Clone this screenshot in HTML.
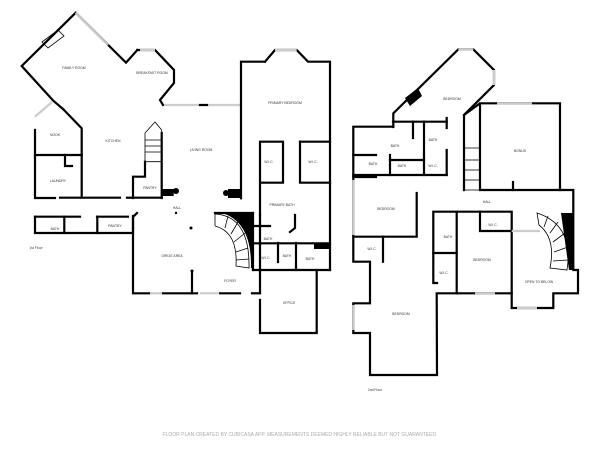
<!DOCTYPE html>
<html><head><meta charset="utf-8"><style>
html,body{margin:0;padding:0;background:#fff;}
svg{display:block;}
text{font-family:"Liberation Sans",sans-serif;font-size:3.4px;fill:#333;text-anchor:middle;}
.w{fill:none;stroke:#000;stroke-width:2.2;stroke-linecap:square;stroke-linejoin:miter;}
.t{fill:none;stroke:#000;stroke-width:0.8;}
.g{fill:none;stroke:#ccc;stroke-width:2.2;}
</style></head><body>
<svg width="600" height="450" viewBox="0 0 600 450" xmlns="http://www.w3.org/2000/svg">
<rect width="600" height="450" fill="#fff"/>
<!-- FIRST FLOOR -->
<polyline class="w" points="63.3,109.3 53.3,100.7 21.7,66 75.7,12.7 126,62.7 137.3,50"/>
<polyline class="g" points="75.7,12.7 108,45"/>
<polyline class="w" points="137.3,50 155,50 174,70 174,83 160,100 163,105"/>
<line class="g" x1="155" y1="50" x2="140" y2="50"/>
<line class="g" x1="164" y1="105" x2="241" y2="105"/>
<line class="w" x1="200" y1="105" x2="207" y2="105"/>
<polygon class="t" points="42,42 58,30 64,36 48,48"/>
<polyline class="w" points="35,130 35,198 55,198"/>
<polyline class="g" points="35,116.7 52,102"/>
<polyline class="w" points="63.3,109.3 81.7,128.3 81.7,197.7 60,197.7"/>
<line class="w" x1="35" y1="155" x2="81.7" y2="155"/>
<polyline class="w" points="65,155 65,166 72,166"/>
<line class="w" x1="81.7" y1="197.7" x2="120" y2="197.7"/>
<line class="w" x1="127" y1="197.7" x2="133" y2="197.7"/>
<polyline class="w" points="35,216.7 35,233 133,233 133,217 137,213"/>
<line class="w" x1="35" y1="216.7" x2="80" y2="216.7"/>
<line class="w" x1="97" y1="216.7" x2="128" y2="216.7"/>
<line class="w" x1="64.3" y1="216.7" x2="64.3" y2="233"/>
<line class="w" x1="97.3" y1="216.7" x2="97.3" y2="233"/>
<polyline class="t" points="145,133 155,122 161.7,130 161.7,161.7 145,161.7 145,133"/>
<line class="t" x1="145" y1="140" x2="161.7" y2="140"/><line class="t" x1="145" y1="146" x2="161.7" y2="146"/><line class="t" x1="145" y1="152" x2="161.7" y2="152"/>
<polyline class="w" points="145,161.7 145,176.7 133,176.7 133,198"/>
<line class="w" x1="161.7" y1="133" x2="161.7" y2="198"/>
<line class="w" x1="133" y1="197.7" x2="161.7" y2="197.7"/>
<rect x="161.7" y="189" width="12" height="7" fill="#000"/><circle cx="176" cy="191" r="3" fill="#000"/>
<rect x="228" y="189" width="13" height="9" fill="#000"/><circle cx="226" cy="193" r="3" fill="#000"/>
<circle cx="176" cy="213" r="1.2" fill="#000"/><circle cx="191" cy="228" r="1.5" fill="#000"/><circle cx="192" cy="271" r="1.5" fill="#000"/>
<polyline class="w" points="133,216 133,293.3 150,293.3"/>
<line class="w" x1="162" y1="293.3" x2="197" y2="293.3"/>
<line class="w" x1="192" y1="271" x2="192" y2="293.3"/>
<line class="w" x1="220" y1="293.3" x2="240" y2="293.3"/>
<line class="w" x1="252" y1="293.3" x2="260" y2="293.3"/>
<line class="g" x1="150" y1="293.3" x2="162" y2="293.3"/><line class="g" x1="200" y1="293.3" x2="218" y2="293.3"/>
<!-- curved stair 1F -->
<line class="w" x1="215" y1="213" x2="253" y2="213"/>
<path d="M222,213 L253,213 L253,268 L251,268 Q252,222 222,213 Z" fill="#000"/>
<path class="t" d="M215,214 Q250,216 249,268 L236,266 Q238,232 215,226"/>
<line class="t" x1="215" y1="226" x2="215" y2="214"/>
<line class="t" x1="225" y1="228" x2="228" y2="216"/><line class="t" x1="231" y1="234" x2="238" y2="222"/><line class="t" x1="234" y1="242" x2="245" y2="233"/><line class="t" x1="236" y1="252" x2="248" y2="248"/><line class="t" x1="236" y1="260" x2="249" y2="259"/>
<polyline class="w" points="241,198.3 241,61.7 265,61.7"/>
<polyline class="w" points="265,61.7 275,50 296.7,50 308,61.7 330,61.7 330,270"/>
<line class="g" x1="275" y1="50" x2="296.7" y2="50"/>
<polyline class="w" points="260,215 260,141.7 283,141.7 283,182.7 260,182.7"/>
<polyline class="w" points="300,141.7 330,141.7"/><polyline class="w" points="300,141.7 300,182.7 330,182.7"/>
<line class="w" x1="260" y1="215" x2="260" y2="293"/>
<line class="w" x1="253" y1="243.3" x2="330" y2="243.3"/>
<line class="w" x1="253" y1="270" x2="330" y2="270"/>
<line class="w" x1="253" y1="213" x2="253" y2="270"/>
<line class="w" x1="253" y1="226" x2="270" y2="226"/>
<line class="w" x1="278" y1="243" x2="278" y2="262"/><line class="w" x1="296" y1="243" x2="296" y2="270"/>
<polyline class="w" points="295,215 295,228 290,232"/>
<rect x="314" y="244" width="16" height="5" fill="#000"/>
<polyline class="w" points="260,300 260,333 316.7,333 316.7,270"/>
<text x="74" y="69">FAMILY ROOM</text><text x="152" y="74">BREAKFAST ROOM</text>
<text x="55" y="136">NOOK</text><text x="113" y="142">KITCHEN</text><text x="58" y="182">LAUNDRY</text>
<text x="201" y="151">LIVING ROOM</text><text x="285" y="104">PRIMARY BEDROOM</text>
<text x="269" y="163">W.I.C.</text><text x="313" y="163">W.I.C.</text><text x="282" y="206">PRIMARY BATH</text>
<text x="150" y="189">PANTRY</text><text x="177" y="209">HALL</text><text x="55" y="230">BATH</text><text x="115" y="227">PANTRY</text>
<text x="172" y="257">GREAT AREA</text><text x="268" y="240">BATH</text><text x="266" y="259">W.I.C.</text><text x="287" y="257">BATH</text><text x="310" y="260">BATH</text>
<text x="230" y="282">FOYER</text><text x="289" y="304">OFFICE</text><text x="36" y="249">1st Floor</text>
<!-- SECOND FLOOR -->
<polyline class="w" points="393.3,127 393.3,113.3 458.3,49.3 473.3,49.3 494,70 494,85 464,115 464,190"/>
<line class="g" x1="458.3" y1="49.3" x2="473.3" y2="49.3"/><line class="g" x1="494" y1="70" x2="494" y2="85"/>
<polygon points="405,98 418,88 422,96 410,106" fill="#000"/>
<polyline class="w" points="393.3,126.7 353.3,126.7 353.3,261.7 370,261.7 370,303.3 353.3,303.3 353.3,333 370,333 370,375 437,375 436.7,293.3 511.7,293.3"/>
<line class="g" x1="353.3" y1="180" x2="353.3" y2="235"/><line class="g" x1="353.3" y1="305" x2="353.3" y2="330"/>
<line class="w" x1="393" y1="121.7" x2="446.7" y2="121.7"/>
<line class="w" x1="446.7" y1="118" x2="446.7" y2="128"/>
<line class="w" x1="446.7" y1="150" x2="446.7" y2="175"/>
<line class="w" x1="424" y1="121.7" x2="424" y2="175"/>
<line class="w" x1="413" y1="121.7" x2="413" y2="138"/>
<polyline class="w" points="353.3,155 376,155"/>
<polyline class="w" points="390,155 390,175"/><polyline class="w" points="390,160 424,160"/>
<line class="w" x1="353.3" y1="175" x2="446.7" y2="175"/>
<line class="w" x1="353.3" y1="177" x2="376" y2="177"/>
<polyline class="w" points="416.7,193 416.7,236.7 353.3,236.7"/>
<line class="w" x1="383" y1="236.7" x2="383" y2="261.7"/>
<polyline class="w" points="464,115 480,103.3 560,103.3 560,190 480,190 480,103.3"/>
<line class="g" x1="497" y1="103.3" x2="532" y2="103.3"/>
<line class="w" x1="513" y1="182" x2="513" y2="190"/>
<polyline class="t" points="464,148 480,148 480,190 464,190"/>
<line class="t" x1="464" y1="160" x2="480" y2="160"/><line class="t" x1="464" y1="170" x2="480" y2="170"/><line class="t" x1="464" y1="180" x2="480" y2="180"/>
<polyline class="w" points="560,190 573.3,190 573.3,270 578,270 578,293.3 553.3,293.3 553.3,308 511.7,308 511.7,211.7 433.3,211.7 433.3,283 437,283"/>
<line class="w" x1="456.7" y1="211.7" x2="456.7" y2="293.3"/>
<line class="w" x1="433.3" y1="253" x2="456.7" y2="253"/>
<polyline class="w" points="480,211.7 480,231 511.7,231"/>
<line class="g" x1="511.7" y1="231" x2="540" y2="231"/>
<!-- curved stair 2F -->
<polygon points="561,213 573.3,213 573.3,270 569,270 Q570,232 561,222 Z" fill="#000"/>
<path class="t" d="M537,213 Q574,225 567,270 L550,268 Q556,238 539,225 Z"/>
<line class="t" x1="544" y1="227" x2="548" y2="216"/><line class="t" x1="550" y1="233" x2="558" y2="222"/><line class="t" x1="553" y1="242" x2="565" y2="233"/><line class="t" x1="554" y1="252" x2="568" y2="247"/><line class="t" x1="553" y1="261" x2="568" y2="260"/>
<line class="g" x1="475" y1="293.3" x2="495" y2="293.3"/><line class="g" x1="517" y1="308" x2="537" y2="308"/>
<text x="452" y="100">BEDROOM</text><text x="395" y="147">BATH</text><text x="433" y="141">BATH</text>
<text x="373" y="165">BATH</text><text x="402" y="167">BATH</text><text x="433" y="167">W.I.C.</text>
<text x="520" y="152">BONUS</text><text x="487" y="203">HALL</text><text x="386" y="210">BEDROOM</text>
<text x="493" y="226">W.I.C.</text><text x="448" y="238">BATH</text><text x="372" y="250">W.I.C.</text>
<text x="482" y="261">BEDROOM</text><text x="444" y="274">W.I.C.</text><text x="539" y="283">OPEN TO BELOW</text>
<text x="401" y="315">BEDROOM</text><text x="375" y="391">2nd Floor</text>
<text x="300" y="436" style="font-size:5px;fill:#aaa;">FLOOR PLAN CREATED BY CUBICASA APP. MEASUREMENTS DEEMED HIGHLY RELIABLE BUT NOT GUARANTEED.</text>
</svg>
</body></html>
